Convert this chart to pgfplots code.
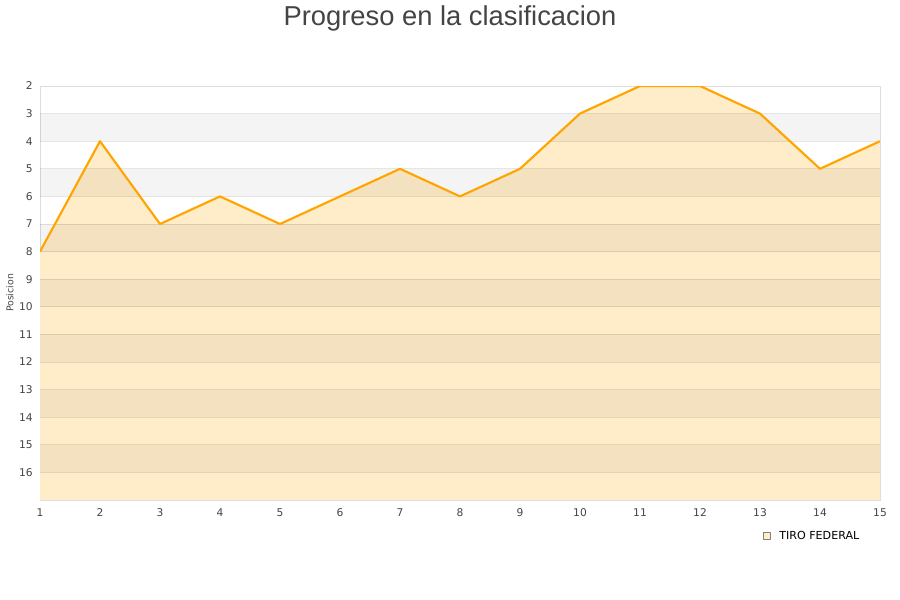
\documentclass[border=0pt]{standalone}
\usepackage{fontspec}
\setmainfont{DejaVu Sans}
\newfontfamily\titlefont{Liberation Sans}
\usepackage{pgfplots}
\pgfplotsset{compat=1.18}
\definecolor{txt}{HTML}{444444}
\definecolor{linec}{HTML}{FFA500}
\definecolor{areac}{HTML}{FFECC9}
\definecolor{framec}{HTML}{DDDDDD}
\begin{document}
\begin{tikzpicture}[x=1pt,y=1pt]
\useasboundingbox (-30,-75) rectangle (645,375);
\begin{axis}[
    at={(0,0)}, anchor=south west,
    scale only axis,
    width=630pt, height=310.5pt,
    xmin=1, xmax=15,
    ymin=2, ymax=17,
    y dir=reverse,
    xtick={1,...,15},
    ytick={2,...,16},
    major tick length=0pt,
    /pgf/number format/assume math mode=true,
    tick label style={font=\fontsize{8}{9}\selectfont, text=txt},
    xticklabel style={yshift=-3pt},
    yticklabel style={xshift=-2pt},
    axis line style={framec},
    ylabel={Posicion},
    ylabel style={font=\fontsize{7}{8}\selectfont, text=txt,
        at={(axis description cs:-0.0357,0.5)}, anchor=center},
    clip=true,
    legend style={at={(0.856,-0.087)}, anchor=west, draw=none, fill=none,
        font=\fontsize{8.3}{9}\selectfont, legend cell align=left},
    legend image code/.code={\draw[fill=areac, draw=gray, line width=0.4pt] (0pt,-2.6pt) rectangle (5.2pt,2.6pt);},
]
\addplot[fill=areac, draw=none, forget plot] coordinates {
(1,17) (1,8) (2,4) (3,7) (4,6) (5,7) (6,6) (7,5) (8,6) (9,5) (10,3)
(11,2) (12,2) (13,3) (14,5) (15,4) (15,17)
};
% alternating bands, drawn over the area
\foreach \k in {3,5,...,15} {
  \edef\tmp{\noexpand\fill[black, opacity=0.045] (axis cs:1,\k) rectangle (axis cs:15,\k+1);}
  \tmp
}
\foreach \k in {3,...,16} {
  \edef\tmp{\noexpand\draw[black, opacity=0.1, line width=0.75pt] (axis cs:1,\k) -- (axis cs:15,\k);}
  \tmp
}
\addplot[linec, line width=1.6pt, line join=round] coordinates {
(1,8) (2,4) (3,7) (4,6) (5,7) (6,6) (7,5) (8,6) (9,5) (10,3)
(11,2) (12,2) (13,3) (14,5) (15,4)
};
\addlegendentry{\hspace{4.5pt}TIRO FEDERAL}
\end{axis}
\node[font=\titlefont\fontsize{20.5}{24}\selectfont, text=txt] at (307.5,361.5) {Progreso en la clasificacion};
\end{tikzpicture}
\end{document}
